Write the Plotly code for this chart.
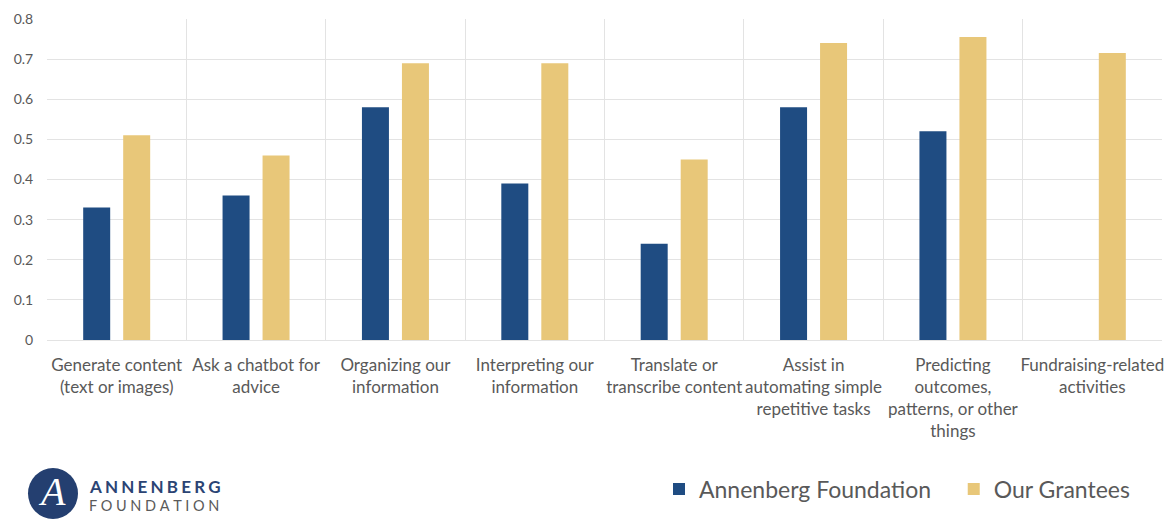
import plotly.graph_objects as go

categories = [
    "Generate content<br>(text or images)",
    "Ask a chatbot for<br>advice",
    "Organizing our<br>information",
    "Interpreting our<br>information",
    "Translate or<br>transcribe content",
    "Assist in<br>automating simple<br>repetitive tasks",
    "Predicting<br>outcomes,<br>patterns, or other<br>things",
    "Fundraising-related<br>activities",
]
annenberg = [0.33, 0.36, 0.58, 0.39, 0.24, 0.58, 0.52, None]
grantees = [0.51, 0.46, 0.69, 0.69, 0.45, 0.74, 0.755, 0.715]

BLUE = "#1F4C82"
GOLD = "#E8C779"
TXT = "#595959"
FONT = "Lato, 'Open Sans', sans-serif"

fig = go.Figure()
fig.add_trace(go.Bar(x=categories, y=annenberg, name="Annenberg Foundation\u00a0\u00a0\u00a0",
                     marker=dict(color=BLUE, line=dict(width=0))))
fig.add_trace(go.Bar(x=categories, y=grantees, name="Our Grantees",
                     marker=dict(color=GOLD, line=dict(width=0))))

W, H = 1167, 519
L, R, T, B = 47, 5, 19, 179
pw, ph = W - L - R, H - T - B

def px(x):
    return (x - L) / pw

def py(y):
    return (H - B - y) / ph

fig.update_layout(
    width=W, height=H,
    margin=dict(l=L, r=R, t=T, b=B),
    paper_bgcolor="white", plot_bgcolor="white",
    barmode="group", bargap=0.426, bargroupgap=0.325,
    font=dict(family=FONT, color=TXT),
    showlegend=True,
    legend=dict(orientation="h", x=px(659), xanchor="left", y=py(489), yanchor="middle",
                font=dict(size=23, color=TXT), traceorder="normal"),
    xaxis=dict(tickson="boundaries", showgrid=True, gridcolor="#E3E3E3", gridwidth=1,
               ticks="", ticklabelstandoff=13,
               tickfont=dict(size=17, color=TXT, family=FONT), tickangle=0,
               showline=False, zeroline=False, automargin=False),
    yaxis=dict(range=[0, 0.8], dtick=0.1, showgrid=True, gridcolor="#E3E3E3", gridwidth=1,
               zeroline=True, zerolinecolor="#E3E3E3", zerolinewidth=1,
               ticks="outside", ticklen=10, tickcolor="rgba(0,0,0,0)",
               tickfont=dict(size=14, color=TXT, family=FONT), showline=False,
               automargin=False),
)

# Logo
fig.add_shape(type="circle", xref="paper", yref="paper",
              x0=px(28), x1=px(78), y0=py(519), y1=py(468),
              fillcolor="#243F70", line=dict(width=0), layer="above")
fig.add_annotation(xref="paper", yref="paper", x=px(52), y=py(491), text="<i>A</i>",
                   showarrow=False, font=dict(family="Liberation Serif, serif", size=40, color="white"),
                   xanchor="center", yanchor="middle")
sp1 = "\u2009\u200a"
sp2 = "\u2009\u200a\u200a"
fig.add_annotation(xref="paper", yref="paper", x=px(87), y=py(486),
                   text="<b>" + sp1.join("ANNENBERG") + "</b>", showarrow=False,
                   font=dict(family=FONT, size=17, color="#2B4474"),
                   xanchor="left", yanchor="middle")
fig.add_annotation(xref="paper", yref="paper", x=px(87), y=py(505),
                   text=sp2.join("FOUNDATION"), showarrow=False,
                   font=dict(family=FONT, size=14.5, color="#5A5A5A"),
                   xanchor="left", yanchor="middle")

fig.write_html("out.html")
